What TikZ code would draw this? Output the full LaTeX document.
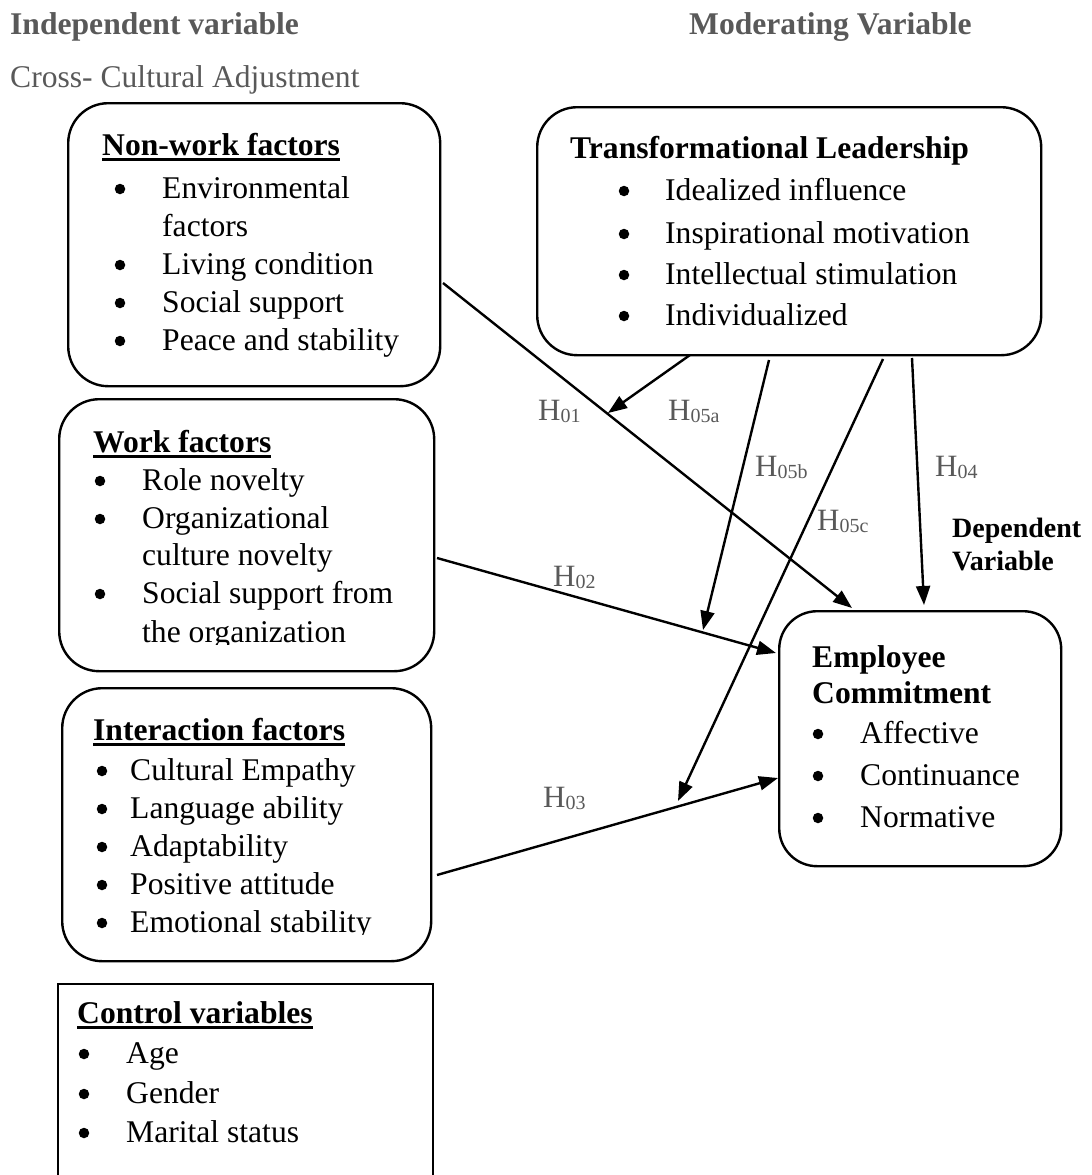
\documentclass[tikz,border=0pt]{standalone}
\usepackage{fontspec}
\setmainfont{Liberation Serif}
\usetikzlibrary{arrows.meta}
\definecolor{lblgray}{RGB}{89,89,89}
\newcommand\hul[1]{\setbox0\hbox{#1}\rlap{\rule[-5.5pt]{\wd0}{2.6pt}}\box0}
\newcommand\hsub[1]{H\raisebox{-2.5pt}{\fontsize{20}{20}\selectfont #1}}
\begin{document}
\begin{tikzpicture}[x=1pt,y=-1pt,
  rbox/.style={draw, line width=2.4pt, rounded corners=40pt, inner sep=0pt, anchor=north west},
  sbox/.style={draw, line width=2.4pt, inner sep=0pt, anchor=north west},
  txt/.style={inner sep=0pt, anchor=base west, font=\fontsize{31.6}{38}\selectfont},
  bul/.style={circle, fill, draw=none, inner sep=0pt, minimum size=10.5pt},
  hd/.style={inner sep=0pt, anchor=base west, font=\fontsize{31.6}{38}\selectfont\bfseries},
  lbl/.style={inner sep=0pt, anchor=base west, text=lblgray, font=\fontsize{31}{31}\selectfont},
  conn/.style={line width=2.4pt, -{Triangle[length=19pt,width=14pt]}},
]
\clip (0,0) rectangle (1092,1175);

% headers
\node[hd, text=lblgray] (hIV) at (10,34) {Independent variable};
\node[hd, text=lblgray] (hMV) at (689,34) {Moderating Variable};
\node[txt, text=lblgray] (hCCA) at (10,87) {Cross- Cultural Adjustment};
\node[hd, font=\fontsize{28}{33}\selectfont\bfseries] (hDV1) at (952,537) {Dependent};
\node[hd, font=\fontsize{28}{33}\selectfont\bfseries] (hDV2) at (952,570) {Variable};

% boxes
\node[rbox, minimum width=372pt, minimum height=283pt] (nw) at (67,102) {};
\node[rbox, minimum width=504pt, minimum height=248pt] (tl) at (536,106) {};
\node[rbox, minimum width=375pt, minimum height=272pt] (wk) at (58,398) {};
\node[rbox, minimum width=369pt, minimum height=273pt] (ia) at (61,687) {};
\node[sbox, minimum width=375pt, minimum height=260pt] (ct) at (57,983) {};
\node[rbox, rounded corners=38pt, minimum width=282pt, minimum height=255pt] (emp) at (778,610) {};

% non-work factors
\node[hd] (nwh) at (102,155) {\hul{Non-work factors}};
\foreach \t/\y [count=\i] in {Environmental/198, factors/236, Living condition/274, Social support/312, Peace and stability/350}
  \node[txt] (nw\i) at (162,\y) {\t};
\foreach \y [count=\i] in {198,274,312,350}
  \node[bul] (nwb\i) at (120,\y-9) {};

% transformational leadership
\node[hd] (tlh) at (570,158) {Transformational Leadership};
\foreach \t/\y [count=\i] in {Idealized influence/200, Inspirational motivation/243, Intellectual stimulation/284, Individualized/325}
  {\node[txt] (tl\i) at (665,\y) {\t};
   \node[bul] (tlb\i) at (624,\y-9) {};}

% work factors
\node[hd] (wkh) at (93,452) {\hul{Work factors}};
\foreach \t/\y [count=\i] in {Role novelty/490, Organizational/528, culture novelty/565, Social support from/603}
  \node[txt] (wk\i) at (142,\y) {\t};
\begin{scope}
  \clip (58,398) rectangle (433,644);
  \node[txt] (wk5) at (142,642) {the organization};
\end{scope}
\foreach \y [count=\i] in {490,528,603}
  \node[bul] (wkb\i) at (100,\y-9) {};

% interaction factors
\node[hd] (iah) at (93,740) {\hul{Interaction factors}};
\foreach \t/\y [count=\i] in {Cultural Empathy/780, Language ability/818, Adaptability/856, Positive attitude/894, Emotional stability/932}
  \node[bul] (iab\i) at (102,\y-9) {};
\foreach \t/\y [count=\i] in {Cultural Empathy/780, Language ability/818, Adaptability/856, Positive attitude/894}
  \node[txt] (ia\i) at (130,\y) {\t};
\begin{scope}
  \clip (61,687) rectangle (430,934);
  \node[txt] (ia5) at (130,932) {Emotional stability};
\end{scope}

% control variables
\node[hd] (cth) at (77,1023) {\hul{Control variables}};
\foreach \t/\y [count=\i] in {Age/1063, Gender/1103, Marital status/1142}
  {\node[txt] (ct\i) at (126,\y) {\t};
   \node[bul] (ctb\i) at (84,\y-9) {};}

% employee commitment
\node[hd] (emh1) at (812,667) {Employee};
\node[hd] (emh2) at (812,703) {Commitment};
\foreach \t/\y [count=\i] in {Affective/743, Continuance/785, Normative/827}
  {\node[txt] (em\i) at (860,\y) {\t};
   \node[bul] (emb\i) at (818,\y-9) {};}

% connector end points
\coordinate (h01s) at (443,283);  \coordinate (h01e) at (852,608);
\coordinate (h5as) at (690,355);  \coordinate (h5ae) at (608,413);
\coordinate (h5bs) at (769,360);  \coordinate (h5be) at (703,630);
\coordinate (h5cs) at (883,359);  \coordinate (h5ce) at (678,801);
\coordinate (h04s) at (912,358);  \coordinate (h04e) at (924,605);
\coordinate (h02s) at (437,558);  \coordinate (h02e) at (776,653);
\coordinate (h03s) at (437,875);  \coordinate (h03e) at (778,778);

\draw[conn] (h01s) -- (h01e);
\draw[conn] (h5as) -- (h5ae);
\draw[conn] (h5bs) -- (h5be);
\draw[conn] (h5cs) -- (h5ce);
\draw[conn] (h04s) -- (h04e);
\draw[conn] (h02s) -- (h02e);
\draw[conn] (h03s) -- (h03e);

% labels
\node[lbl] (l01) at (538,420) {\hsub{01}};
\node[lbl] (l5a) at (668,420) {\hsub{05a}};
\node[lbl] (l5b) at (755,476) {\hsub{05b}};
\node[lbl] (l5c) at (817,530) {\hsub{05c}};
\node[lbl] (l02) at (553,586) {\hsub{02}};
\node[lbl] (l04) at (935,476) {\hsub{04}};
\node[lbl] (l03) at (543,807) {\hsub{03}};
\end{tikzpicture}
\end{document}
